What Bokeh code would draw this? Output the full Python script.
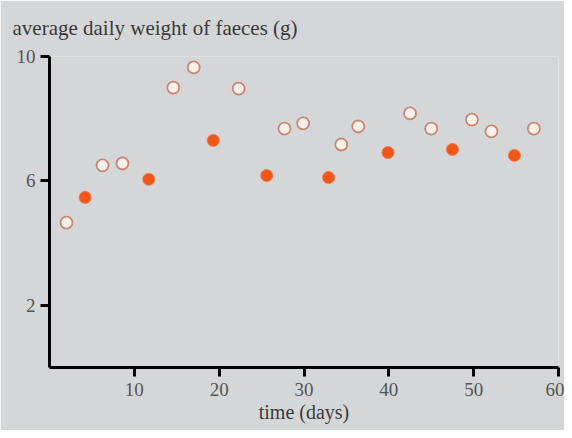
from bokeh.plotting import figure
from bokeh.models import Range1d, FixedTicker, Title
from bokeh.embed import file_html
from bokeh.resources import INLINE

# open circles series
open_days = [2.0, 6.25, 8.6, 14.6, 17.0, 22.3, 27.7, 29.9, 34.4, 36.4, 42.5, 45.0, 49.8, 52.1, 57.1]
open_weight = [4.66, 6.50, 6.56, 9.0, 9.65, 8.97, 7.68, 7.85, 7.17, 7.75, 8.17, 7.68, 7.97, 7.59, 7.68]

# filled circles series
filled_days = [4.2, 11.7, 19.3, 25.6, 32.9, 39.9, 47.5, 54.8]
filled_weight = [5.47, 6.05, 7.30, 6.17, 6.11, 6.91, 7.01, 6.82]

x_ticks = [10, 20, 30, 40, 50, 60]
y_ticks = [2, 6, 10]

BG = "#d4d6d8"
SERIF = "Liberation Serif"

p = figure(width=564, height=430, output_backend="svg", toolbar_location=None,
           x_range=Range1d(0, 60), y_range=Range1d(0, 10),
           min_border_left=49, min_border_right=6, min_border_top=56, min_border_bottom=63)
p.background_fill_color = BG
p.border_fill_color = BG
p.outline_line_color = None
p.grid.visible = False

p.title = Title(text="average daily weight of faeces (g)", align="left", offset=-37,
                vertical_align="top", standoff=30, text_line_height=1.0,
                text_font=SERIF, text_font_size="21px", text_font_style="normal",
                text_color="#3a3a3a")

for ax in (p.xaxis, p.yaxis):
    ax.axis_line_color = "black"
    ax.axis_line_width = 3
    ax.major_tick_line_color = "black"
    ax.major_tick_line_width = 3
    ax.major_tick_out = 9
    ax.major_tick_in = 0
    ax.minor_tick_line_color = None
    ax.major_label_text_font = SERIF
    ax.major_label_text_font_size = "19px"
    ax.major_label_text_color = "#555555"

p.xaxis.ticker = FixedTicker(ticks=x_ticks)
p.yaxis.ticker = FixedTicker(ticks=y_ticks)
p.xaxis.major_label_standoff = 6
p.yaxis.major_label_standoff = 5

p.xaxis.axis_label = "time (days)"
p.xaxis.axis_label_text_font = SERIF
p.xaxis.axis_label_text_font_size = "20px"
p.xaxis.axis_label_text_font_style = "normal"
p.xaxis.axis_label_text_color = "#3a3a3a"
p.xaxis.axis_label_text_line_height = 1.0
p.xaxis.axis_label_standoff = 2

p.scatter(open_days, open_weight, size=12, marker="circle",
          fill_color="#fdf1ec", line_color="#c98670", line_width=1.8)
p.scatter(filled_days, filled_weight, size=12, marker="circle",
          fill_color="#f0561a", line_color="#f27a48", line_width=1)

open("out.html", "w").write(file_html(p, INLINE))
